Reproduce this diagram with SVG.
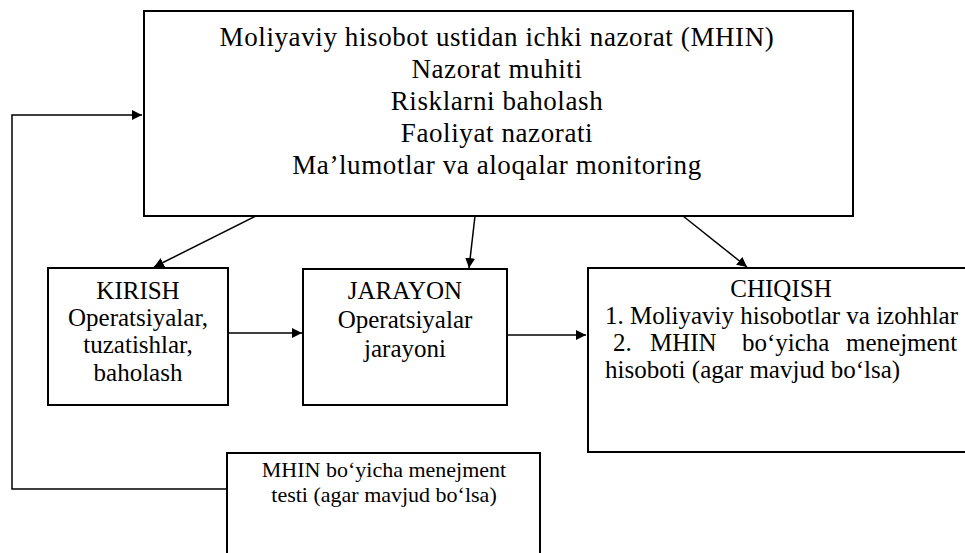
<svg xmlns="http://www.w3.org/2000/svg" width="965" height="553" viewBox="0 0 965 553">
<defs>
<marker id="ah" viewBox="0 0 10 10" refX="10" refY="5" markerWidth="10" markerHeight="10" markerUnits="userSpaceOnUse" orient="auto">
<path d="M0,0 L10,5 L0,10 z" fill="#000"/>
</marker>
<style>
.box{fill:#fff;stroke:#000;stroke-width:2}
.t{font-family:"Liberation Serif","Times New Roman",serif;fill:#000}
.c{text-anchor:middle}
.big{font-size:27px;letter-spacing:0.6px}
.mid{font-size:25px}
.sm{font-size:22px}
.ln{fill:none;stroke:#000;stroke-width:1.5}
</style>
</defs>
<g id="connectors">
<line class="ln" x1="256" y1="216" x2="154" y2="267" marker-end="url(#ah)"/>
<line class="ln" x1="475" y1="216" x2="469" y2="268" marker-end="url(#ah)"/>
<line class="ln" x1="683" y1="216" x2="747" y2="267" marker-end="url(#ah)"/>
<line class="ln" x1="228" y1="333" x2="302" y2="333" marker-end="url(#ah)"/>
<line class="ln" x1="507" y1="335" x2="586" y2="335" marker-end="url(#ah)"/>
<polyline class="ln" points="227,489 12,489 12,115 142,115" marker-end="url(#ah)"/>
</g>
<g id="mhin">
<rect class="box" x="144" y="11" width="709" height="205"/>
<text class="t c big" x="497" y="46">Moliyaviy hisobot ustidan ichki nazorat (MHIN)</text>
<text class="t c big" x="497" y="78">Nazorat muhiti</text>
<text class="t c big" x="497" y="110">Risklarni baholash</text>
<text class="t c big" x="497" y="142">Faoliyat nazorati</text>
<text class="t c big" x="497" y="174">Ma’lumotlar va aloqalar monitoring</text>
</g>
<g id="kirish">
<rect class="box" x="48" y="268" width="180" height="137"/>
<text class="t c mid" x="138" y="299">KIRISH</text>
<text class="t c mid" x="138" y="326">Operatsiyalar,</text>
<text class="t c mid" x="138" y="353">tuzatishlar,</text>
<text class="t c mid" x="138" y="381">baholash</text>
</g>
<g id="jarayon">
<rect class="box" x="303" y="269" width="204" height="136"/>
<text class="t c mid" x="405" y="299">JARAYON</text>
<text class="t c mid" x="405" y="328">Operatsiyalar</text>
<text class="t c mid" x="405" y="357">jarayoni</text>
</g>
<g id="chiqish">
<rect class="box" x="588" y="268" width="390" height="184"/>
<text class="t c mid" x="781" y="297">CHIQISH</text>
<text class="t mid" x="605" y="324" textLength="353" lengthAdjust="spacing">1. Moliyaviy hisobotlar va izohhlar</text>
<text class="t mid" x="613" y="351">2.</text>
<text class="t mid" x="650" y="351">MHIN</text>
<text class="t mid" x="742" y="351">bo‘yicha</text>
<text class="t mid" x="846" y="351">menejment</text>
<text class="t mid" x="605" y="378">hisoboti (agar mavjud bo‘lsa)</text>
</g>
<g id="test">
<rect class="box" x="227" y="453" width="313" height="120"/>
<text class="t c sm" x="384" y="477">MHIN bo‘yicha menejment</text>
<text class="t c sm" x="384" y="502">testi (agar mavjud bo‘lsa)</text>
</g>
</svg>
